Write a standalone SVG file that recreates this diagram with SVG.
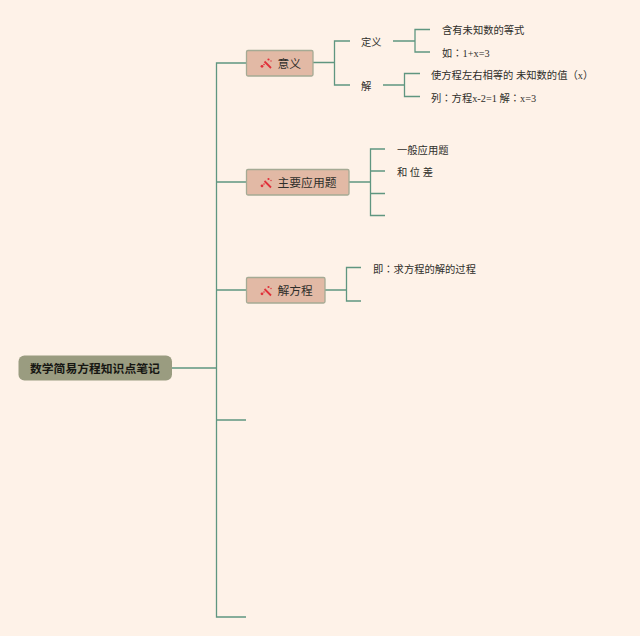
<svg xmlns="http://www.w3.org/2000/svg" width="640" height="636" viewBox="0 0 640 636">
<style>
text{font-family:"Liberation Serif","Noto Sans CJK TC",serif;fill:#2e2e2a}
.t{font-size:10.3px}
.n{font-size:11.800px}
.r{font-size:11.800px;font-weight:700;fill:#161612}
.c{fill:none;stroke:#5f9680;stroke-width:1.3}
.b{fill:#e2b9a5;stroke:#a5aa94;stroke-width:1.3}
.i{stroke:#e0303a;stroke-width:1.800;fill:none}
.d{fill:#e0303a}
</style>
<defs>
<g id="icon">
<path class="i" d="M-2.500 -2L4 4.500"/>
<circle class="d" cx="-5" cy="2.800" r="1.400"/>
<circle class="d" cx="-3" cy="1" r="0.800"/>
<circle class="d" cx="1.500" cy="-4" r="1.100"/>
<circle class="d" cx="4" cy="-2.500" r="0.700"/>
</g>
</defs>
<rect width="640" height="636" fill="#fef2e8"/>
<g id="connectors">
<path class="c" d="M172 368H216.500M246 63H216.500V617H246M216.500 182H246M216.500 290H246M216.500 420H246"/>
<path class="c" d="M313 62.500H334.500M350 41H334.500V85H350"/>
<path class="c" d="M393 41H415M430 29.500H415V52H430"/>
<path class="c" d="M383 85H404.500M420 73.500H404.500V96.500H420"/>
<path class="c" d="M349 182H370.500M385 149H370.500V215.500H385M370.500 171H385M370.500 193.500H385"/>
<path class="c" d="M325 290H346.500M361 267.500H346.500V301H361"/>
</g>
<g id="root">
<rect x="18.500" y="355.500" width="153.500" height="25" rx="6" fill="#9a9c80"/>
<text class="r" x="30" y="372.500">数学简易方程知识点笔记</text>
</g>
<g id="node-yiyi">
<rect class="b" x="246.500" y="50.500" width="66.500" height="25.500" rx="1.500"/>
<use href="#icon" x="267" y="63.500"/>
<text class="n" x="277.500" y="67.500">意义</text>
</g>
<g id="node-yingyong">
<rect class="b" x="246.500" y="169.500" width="102.500" height="25.500" rx="1.500"/>
<use href="#icon" x="267" y="183"/>
<text class="n" x="277.500" y="187">主要应用题</text>
</g>
<g id="node-jiefangcheng">
<rect class="b" x="246.500" y="277.500" width="78.500" height="25.500" rx="1.500"/>
<use href="#icon" x="267" y="291"/>
<text class="n" x="277.500" y="295">解方程</text>
</g>
<g id="label-dingyi"><text class="t" x="361" y="45.500">定义</text></g>
<g id="label-jie"><text class="t" x="361" y="90">解</text></g>
<g id="label-hanyou"><text class="t" x="442" y="34">含有未知数的等式</text></g>
<g id="label-ru"><text class="t" x="442" y="57">如：1+x=3</text></g>
<g id="label-shi"><text class="t" x="431" y="79">使方程左右相等的 未知数的值（x）</text></g>
<g id="label-lie"><text class="t" x="431" y="101.500">列：方程x-2=1 解：x=3</text></g>
<g id="label-yiban"><text class="t" x="397" y="153.500">一般应用题</text></g>
<g id="label-he"><text class="t" x="397" y="175.500">和 位 差</text></g>
<g id="label-ji"><text class="t" x="373" y="272.500">即：求方程的解的过程</text></g>
</svg>
